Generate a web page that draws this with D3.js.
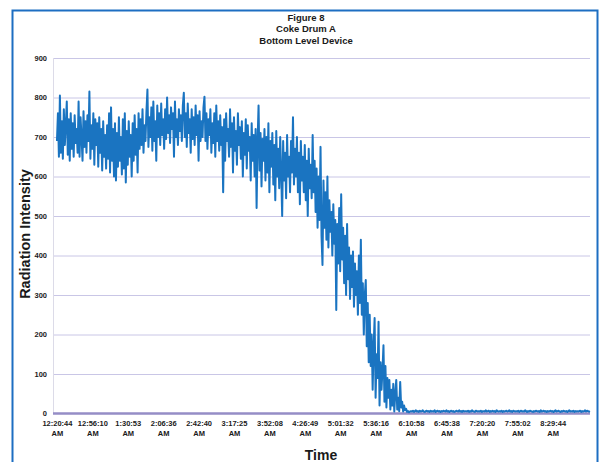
<!DOCTYPE html>
<html>
<head>
<meta charset="utf-8">
<script src="https://cdn.jsdelivr.net/npm/d3@7"></script>
<style>
  html, body { margin: 0; padding: 0; background: #ffffff; }
  svg { display: block; }
  text { font-family: Arial, "Liberation Sans", sans-serif; fill: #1a1a1a; }
</style>
</head>
<body>
<svg id="chart" width="604" height="462"></svg>
<script>
// Chart titles
const titleLines = ["Figure 8", "Coke Drum A", "Bottom Level Device"];
const xAxisTitle = "Time";
const yAxisTitle = "Radiation Intensity";

// Y axis ticks
const yTicks = [0, 100, 200, 300, 400, 500, 600, 700, 800, 900];

// X axis time labels (one every 36 samples)
const timeLabels = ["12:20:44", "12:56:10", "1:30:53", "2:06:36", "2:42:40", "3:17:25", "3:52:08",
  "4:26:49", "5:01:32", "5:36:16", "6:10:58", "6:45:38", "7:20:20", "7:55:02", "8:29:44"];
const timeSuffix = "AM";
const samplesPerLabel = 36;

// Radiation intensity readings, one per sample
const intensity = [
  690, 760, 650, 805, 660, 740, 645, 770, 680, 730,
  790, 655, 745, 640, 760, 670, 735, 650, 755, 685,
  720, 660, 790, 650, 750, 700, 640, 765, 675, 740,
  660, 755, 690, 815, 645, 730, 670, 760, 630, 745,
  680, 735, 625, 750, 660, 720, 615, 740, 650, 705,
  620, 730, 645, 760, 610, 775, 640, 720, 600, 735,
  590, 710, 625, 750, 640, 700, 605, 745, 620, 760,
  585, 715, 630, 740, 650, 705, 600, 735, 640, 755,
  655, 720, 610, 760, 670, 745, 680, 770, 660, 730,
  690, 765, 820, 675, 750, 700, 775, 665, 790, 690,
  740, 640, 780, 700, 760, 680, 785, 705, 745, 670,
  770, 695, 800, 710, 755, 685, 775, 720, 760, 650,
  790, 700, 745, 680, 770, 715, 755, 690, 780, 812,
  700, 760, 675, 785, 710, 745, 660, 770, 695, 750,
  680, 780, 705, 755, 640, 765, 690, 740, 700, 775,
  802, 690, 760, 670, 745, 705, 770, 660, 735, 685,
  760, 650, 780, 690, 740, 665, 755, 680, 725, 560,
  745, 640, 760, 690, 720, 650, 770, 675, 735, 610,
  750, 665, 715, 630, 760, 680, 725, 645, 740, 600,
  710, 655, 745, 620, 730, 665, 700, 590, 735, 640,
  705, 600, 720, 520, 690, 780, 615, 710, 575, 695,
  640, 720, 590, 700, 610, 735, 560, 690, 625, 710,
  580, 680, 540, 715, 600, 670, 570, 700, 610, 500,
  690, 590, 660, 545, 705, 600, 650, 560, 690, 610,
  750, 580, 670, 600, 700, 560, 660, 530, 690, 590,
  650, 560, 680, 540, 640, 500, 670, 570, 630, 545,
  705, 560, 640, 510, 620, 470, 600, 490, 675, 450,
  376, 590, 470, 560, 440, 600, 420, 540, 460, 510,
  400, 530, 430, 490, 262, 480, 380, 520, 360, 555,
  390, 470, 330, 450, 300, 480, 340, 420, 290, 400,
  320, 410, 270, 380, 300, 360, 250, 400, 280, 440,
  250, 330, 200, 300, 338, 170, 280, 130, 250, 120,
  200, 60, 170, 242, 40, 150, 90, 232, 20, 130,
  60, 110, 173, 30, 120, 15, 90, 40, 85, 10,
  60, 20, 75, 5, 50, 85, 10, 40, 6, 80,
  15, 30, 5, 20, 8, 12, 4, 6, 3, 5,
  6, 5, 7, 4, 6, 8, 5, 6, 4, 7,
  5, 6, 8, 5, 4, 6, 7, 5, 6, 4,
  7, 5, 6, 5, 8, 4, 6, 7, 5, 6,
  4, 6, 5, 7, 6, 5, 8, 5, 6, 4,
  6, 7, 5, 6, 4, 5, 7, 6, 5, 8,
  5, 6, 4, 7, 5, 6, 6, 5, 7, 4,
  6, 5, 8, 6, 5, 4, 7, 6, 5, 6,
  5, 7, 4, 6, 6, 5, 8, 5, 6, 7,
  4, 6, 5, 7, 5, 6, 4, 8, 6, 5,
  6, 5, 7, 4, 6, 5, 6, 7, 5, 6,
  8, 5, 6, 4, 7, 6, 5, 6, 5, 7,
  4, 6, 7, 5, 6, 5, 8, 6, 4, 6,
  5, 7, 6, 5, 4, 6, 5, 7, 6, 5,
  6, 4, 8, 5, 6, 7, 5, 6, 4, 6,
  5, 6, 7, 5, 6, 4, 6, 8, 5, 6,
  7, 5, 4, 6, 5, 7, 6, 5, 6, 4,
  6, 8, 5, 6, 5, 7, 4, 6, 5, 6,
  5, 6, 7, 4, 6, 5, 6, 8, 5, 7,
  6, 5, 4
];

const svg = d3.select("#chart");
const plot = { left: 54, right: 590, top: 58, bottom: 413.5 };

// outer frame (open at the bottom edge of the page)
svg.append("rect")
  .attr("x", 12.5).attr("y", 10.5)
  .attr("width", 585).attr("height", 480)
  .attr("fill", "#ffffff")
  .attr("stroke", "#1d6ec2").attr("stroke-width", 2);

const x = d3.scaleLinear()
  .domain([-3, intensity.length - 1])
  .range([plot.left, plot.right]);
const y = d3.scaleLinear()
  .domain([0, 900])
  .range([plot.bottom, plot.top]);

// horizontal gridlines
const grid = svg.append("g")
  .attr("transform", `translate(${plot.left - 1},0)`)
  .call(d3.axisLeft(y).tickValues(yTicks.filter(v => v > 0))
    .tickSize(-(plot.right - plot.left + 1)).tickFormat(""));
grid.select(".domain").remove();
grid.selectAll(".tick line").attr("stroke", "#c9c6e6").attr("stroke-width", 1);

// left plot edge
svg.append("line")
  .attr("x1", plot.left - 0.5).attr("x2", plot.left - 0.5)
  .attr("y1", y(900)).attr("y2", y(0))
  .attr("stroke", "#dcdbe8").attr("stroke-width", 1);

// y tick labels
const yAxis = svg.append("g")
  .attr("transform", `translate(${plot.left},0)`)
  .call(d3.axisLeft(y).tickValues(yTicks).tickSize(0).tickPadding(7));
yAxis.select(".domain").remove();
yAxis.selectAll("text")
  .attr("font-size", 7.5).attr("font-weight", "bold")
  .attr("font-family", "Arial, 'Liberation Sans', sans-serif")
  .attr("fill", "#1a1a1a");

// x axis baseline
svg.append("line")
  .attr("x1", plot.left - 1).attr("x2", plot.right)
  .attr("y1", y(0)).attr("y2", y(0))
  .attr("stroke", "#958dc6").attr("stroke-width", 2.5);

// x tick labels: time on one line, AM/PM below
const labelIdx = timeLabels.map((_, i) => i * samplesPerLabel);
const xAxis = svg.append("g")
  .attr("transform", `translate(0,${plot.bottom})`)
  .call(d3.axisBottom(x).tickValues(labelIdx).tickSize(0).tickPadding(0)
    .tickFormat((d, i) => timeLabels[i]));
xAxis.select(".domain").remove();
xAxis.selectAll("text").each(function (d, i) {
  const t = d3.select(this);
  t.text(null).attr("y", 0).attr("dy", null)
    .attr("font-size", 7.5).attr("font-weight", "bold")
    .attr("font-family", "Arial, 'Liberation Sans', sans-serif")
    .attr("fill", "#1a1a1a");
  t.append("tspan").attr("x", 0).attr("y", 12).text(timeLabels[i]);
  t.append("tspan").attr("x", 0).attr("y", 22).text(timeSuffix);
});

// data series
const line = d3.line()
  .x((d, i) => x(i))
  .y(d => y(d));
svg.append("path")
  .datum(intensity)
  .attr("fill", "none")
  .attr("stroke", "#1a74c1")
  .attr("stroke-width", 2)
  .attr("stroke-linejoin", "round")
  .attr("d", line);

// titles
const title = svg.append("text")
  .attr("text-anchor", "middle")
  .attr("font-weight", "bold").attr("font-size", 9.5);
titleLines.forEach((s, i) => {
  title.append("tspan").attr("x", 306).attr("y", 20.5 + i * 11.6).text(s);
});

svg.append("text")
  .attr("x", 321).attr("y", 460)
  .attr("text-anchor", "middle")
  .attr("font-weight", "bold").attr("font-size", 14)
  .text(xAxisTitle);

svg.append("text")
  .attr("transform", `translate(30,234) rotate(-90)`)
  .attr("text-anchor", "middle")
  .attr("font-weight", "bold").attr("font-size", 14.5)
  .text(yAxisTitle);
</script>
</body>
</html>
